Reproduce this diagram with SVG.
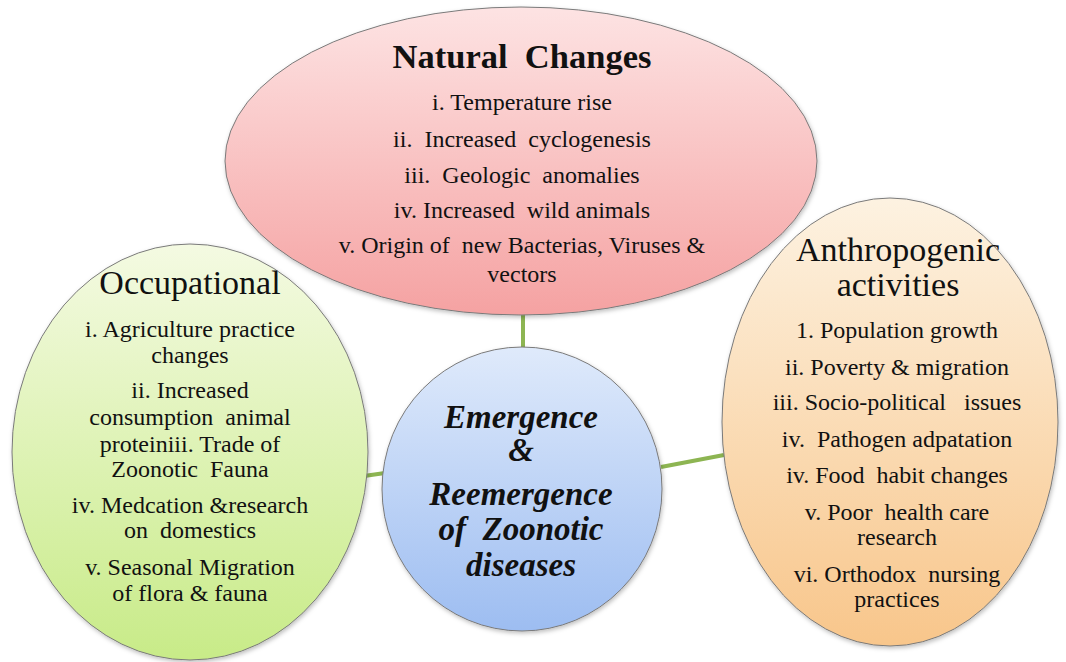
<svg xmlns="http://www.w3.org/2000/svg" width="1066" height="662" viewBox="0 0 1066 662" font-family="Liberation Serif, Times New Roman, serif">
<defs>
<linearGradient id="gPink" x1="0" y1="0" x2="0" y2="1"><stop offset="0" stop-color="#fde3e3"/><stop offset="1" stop-color="#f5a2a2"/></linearGradient>
<linearGradient id="gGreen" x1="0" y1="0" x2="0" y2="1"><stop offset="0" stop-color="#f4fae2"/><stop offset="1" stop-color="#c8eb88"/></linearGradient>
<linearGradient id="gBlue" x1="0" y1="0" x2="0" y2="1"><stop offset="0" stop-color="#dfeafb"/><stop offset="1" stop-color="#9dbdf1"/></linearGradient>
<linearGradient id="gOrange" x1="0" y1="0" x2="0" y2="1"><stop offset="0" stop-color="#fdf2e1"/><stop offset="1" stop-color="#f8c68b"/></linearGradient>
<filter id="sh" x="-10%" y="-10%" width="120%" height="120%"><feDropShadow dx="1" dy="2" stdDeviation="2" flood-color="#000" flood-opacity="0.25"/></filter>
</defs>
<style>
.shape{stroke:#7a7a7a;stroke-width:1;filter:url(#sh)}
.t{fill:#111;text-anchor:middle}
.title{font-size:34px}
.item{font-size:24px}
.btitle{font-size:34.5px;font-weight:bold}
.center{font-size:33px;font-weight:bold;font-style:italic}
.conn{stroke:#8db552;stroke-width:4;fill:none}
</style>
<rect width="1066" height="662" fill="#ffffff"/>
<g id="connectors">
<line class="conn" x1="523" y1="312" x2="523" y2="349"/>
<line class="conn" x1="364" y1="476" x2="385" y2="473"/>
<line class="conn" x1="661" y1="467" x2="724" y2="455"/>
</g>
<g id="natural">
<ellipse class="shape" cx="521" cy="161" rx="296" ry="154" fill="url(#gPink)"/>
<text class="t btitle" x="522" y="68" xml:space="preserve">Natural  Changes</text>
<text class="t item" x="522" y="110" xml:space="preserve">i. Temperature rise</text>
<text class="t item" x="522" y="147" xml:space="preserve">ii.  Increased  cyclogenesis</text>
<text class="t item" x="522" y="183" xml:space="preserve">iii.  Geologic  anomalies</text>
<text class="t item" x="522" y="218" xml:space="preserve">iv. Increased  wild animals</text>
<text class="t item" x="522" y="253" xml:space="preserve">v. Origin of  new Bacterias, Viruses &amp;</text>
<text class="t item" x="522" y="282" xml:space="preserve">vectors</text>
</g>
<g id="occupational">
<ellipse class="shape" cx="190" cy="452" rx="178" ry="208" fill="url(#gGreen)"/>
<text class="t title" x="190" y="294">Occupational</text>
<text class="t item" x="190" y="337" xml:space="preserve">i. Agriculture practice</text>
<text class="t item" x="190" y="363" xml:space="preserve">changes</text>
<text class="t item" x="190" y="398" xml:space="preserve">ii. Increased</text>
<text class="t item" x="190" y="425" xml:space="preserve">consumption  animal</text>
<text class="t item" x="190" y="452" xml:space="preserve">proteiniii. Trade of</text>
<text class="t item" x="190" y="477" xml:space="preserve">Zoonotic  Fauna</text>
<text class="t item" x="190" y="513" xml:space="preserve">iv. Medcation &amp;research</text>
<text class="t item" x="190" y="538" xml:space="preserve">on  domestics</text>
<text class="t item" x="190" y="575" xml:space="preserve">v. Seasonal Migration</text>
<text class="t item" x="190" y="601" xml:space="preserve">of flora &amp; fauna</text>
</g>
<g id="center">
<ellipse class="shape" cx="522" cy="489" rx="140" ry="142" fill="url(#gBlue)"/>
<text class="t center" x="521" y="428">Emergence</text>
<text class="t center" x="521" y="461">&amp;</text>
<text class="t center" x="521" y="505">Reemergence</text>
<text class="t center" x="521" y="540" xml:space="preserve">of  Zoonotic</text>
<text class="t center" x="521" y="576">diseases</text>
</g>
<g id="anthropogenic">
<ellipse class="shape" cx="890" cy="422" rx="168" ry="224" fill="url(#gOrange)"/>
<text class="t title" x="898" y="261">Anthropogenic</text>
<text class="t title" x="898" y="296">activities</text>
<text class="t item" x="897" y="338" xml:space="preserve">1. Population growth</text>
<text class="t item" x="897" y="375" xml:space="preserve">ii. Poverty &amp; migration</text>
<text class="t item" x="897" y="410" xml:space="preserve">iii. Socio-political   issues</text>
<text class="t item" x="897" y="447" xml:space="preserve">iv.  Pathogen adpatation</text>
<text class="t item" x="897" y="483" xml:space="preserve">iv. Food  habit changes</text>
<text class="t item" x="897" y="520" xml:space="preserve">v. Poor  health care</text>
<text class="t item" x="897" y="545" xml:space="preserve">research</text>
<text class="t item" x="897" y="582" xml:space="preserve">vi. Orthodox  nursing</text>
<text class="t item" x="897" y="607" xml:space="preserve">practices</text>
</g>
</svg>
